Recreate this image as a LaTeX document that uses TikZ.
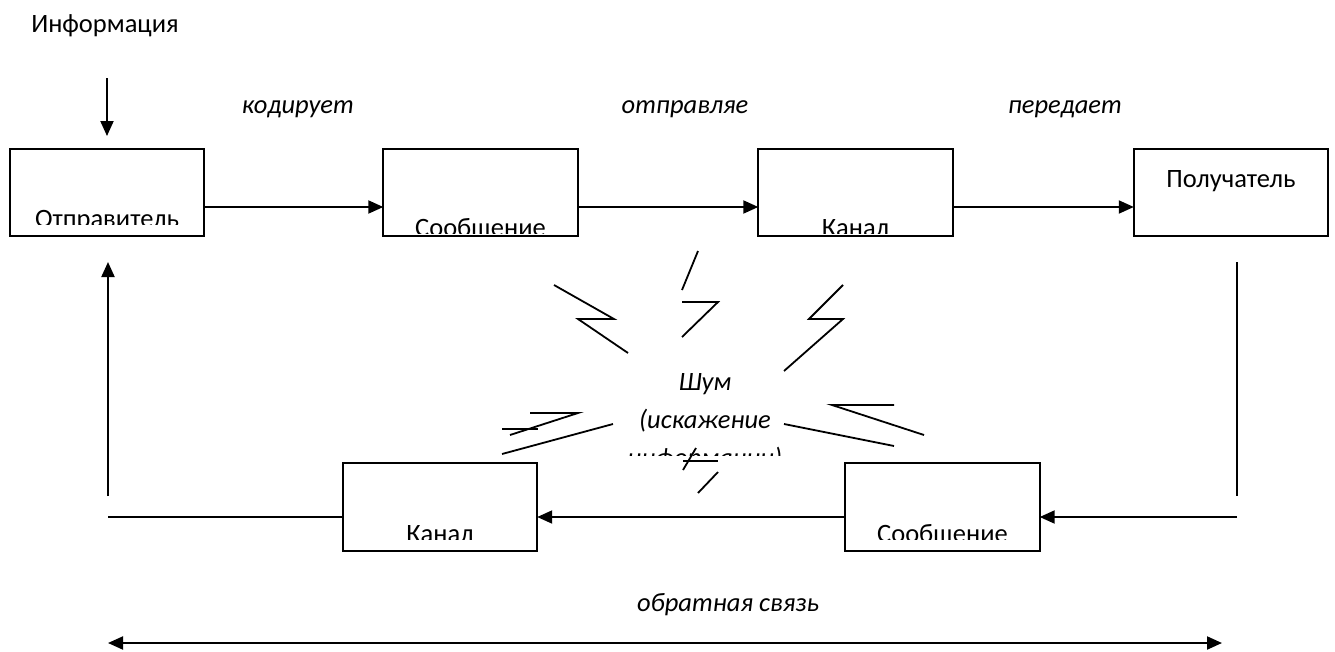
\documentclass[tikz,border=0pt]{standalone}
\usepackage{fontspec}
\setmainfont{Carlito}
\usetikzlibrary{arrows.meta,calc}

\begin{document}
\begin{tikzpicture}[x=1pt,y=-1pt,
  slot/.style={inner sep=0, minimum width=194pt, minimum height=87pt},
  frame/.style={draw, line width=2pt},
  flow/.style={line width=2pt, -{Triangle[length=15pt,width=13pt]}},
  both/.style={line width=2pt, {Triangle[length=15pt,width=13pt]}-{Triangle[length=15pt,width=13pt]}},
  wire/.style={line width=2pt},
  bolt/.style={line width=1.8pt},
  cover/.style={fill=white, draw=none},
  txt/.style={font=\fontsize{26.5}{32}\selectfont, inner sep=0, anchor=base},
  itxt/.style={txt, font=\fontsize{26.5}{32}\selectfont\itshape}]
\useasboundingbox (0,0) rectangle (1335,651);

% box slots: top row, then bottom row
\node[slot] (sender)  at (107,192.5)  {};
\node[slot] (msg)     at (480.5,192.5) {};
\node[slot] (chan)    at (855.5,192.5) {};
\node[slot] (recv)    at (1231,192.5) {};
\node[slot] (chanb)   at (440,507)    {};
\node[slot] (msgb)    at (942.5,507)  {};

% box captions; their lower part is hidden by the frame of the text field
\node[txt] (tsender) at (107,227)   {Отправитель};
\node[txt] (tmsg)    at (480.5,236) {Сообщение};
\node[txt] (tchan)   at (855.5,236) {Канал};
\node[txt] (tchanb)  at (440,542)   {Канал};
\node[txt] (tmsgb)   at (942.5,542) {Сообщение};
\node[txt] (trecv)   at (1231,187)  {Получатель};
\path[cover] (12,225)    rectangle (202,236);
\path[cover] (385,234.3) rectangle (576,252);
\path[cover] (760,234.3) rectangle (951,252);
\path[cover] (345,540)   rectangle (535,558);
\path[cover] (847,540)   rectangle (1038,558);

% noise caption, third line cut off
\node[itxt] (noise1) at (705,390) {Шум};
\node[itxt] (noise2) at (705,428) {(искажение};
\node[itxt] (noise3) at (705,466) {информации)};
\path[cover] (610,455.5) rectangle (800,480);

% box frames
\foreach \b in {sender,msg,chan,recv,chanb,msgb}
  \draw[frame] (\b.north west) rectangle (\b.south east);

% labels
\node[txt] (info) at (105,32) {Информация};
\node[itxt] (enc)  at (298,113) {кодирует};
\node[itxt] (send) at (685,113) {отправляе};
\node[itxt] (pass) at (1065,113) {передает};
\node[itxt] (fb)   at (728,611) {обратная связь};

% forward path
\coordinate (infotop) at (107,78);
\coordinate (infoend) at (107,136);
\draw[flow] (infotop) -- (infoend);
\draw[flow] (sender.east |- 0,207) -- (msg.west |- 0,207);
\draw[flow] (msg.east |- 0,207) -- (chan.west |- 0,207);
\draw[flow] (chan.east |- 0,207) -- (recv.west |- 0,207);

% feedback path
\coordinate (rtop) at (1237,262);
\coordinate (rbot) at (1237,496);
\coordinate (rmid) at (1237,517);
\coordinate (lmid) at (108,517);
\coordinate (lbot) at (108,496);
\coordinate (ltop) at (108,262);
\draw[wire] (rtop) -- (rbot);
\draw[flow] (rmid) -- (msgb.east |- rmid);
\draw[flow] (msgb.west |- rmid) -- (chanb.east |- rmid);
\draw[wire] (chanb.west |- lmid) -- (lmid);
\draw[flow] (lbot) -- (ltop);

% span of the feedback loop
\coordinate (spanl) at (108,643);
\coordinate (spanr) at (1222,643);
\draw[both] (spanl) -- (spanr);

% noise bolts
\draw[bolt] (554,285) -- (614,319) -- (578,319) -- (628,353);
\draw[bolt] (698,251) -- (682,290);
\draw[bolt] (682,302) -- (718,302) -- (682,337);
\draw[bolt] (843,285) -- (809,319) -- (843,319) -- (784,371);
\draw[bolt] (894,405) -- (832,405) -- (924,435);
\draw[bolt] (784,424) -- (894,446);
\draw[bolt] (502,429) -- (538,429);
\draw[bolt] (530,413) -- (578,413) -- (510,435);
\draw[bolt] (502,454) -- (613,424);
\draw[bolt] (696,448) -- (683,470);
\draw[bolt] (683,461) -- (718,461);
\draw[bolt] (718,472) -- (698,493);
\end{tikzpicture}
\end{document}
